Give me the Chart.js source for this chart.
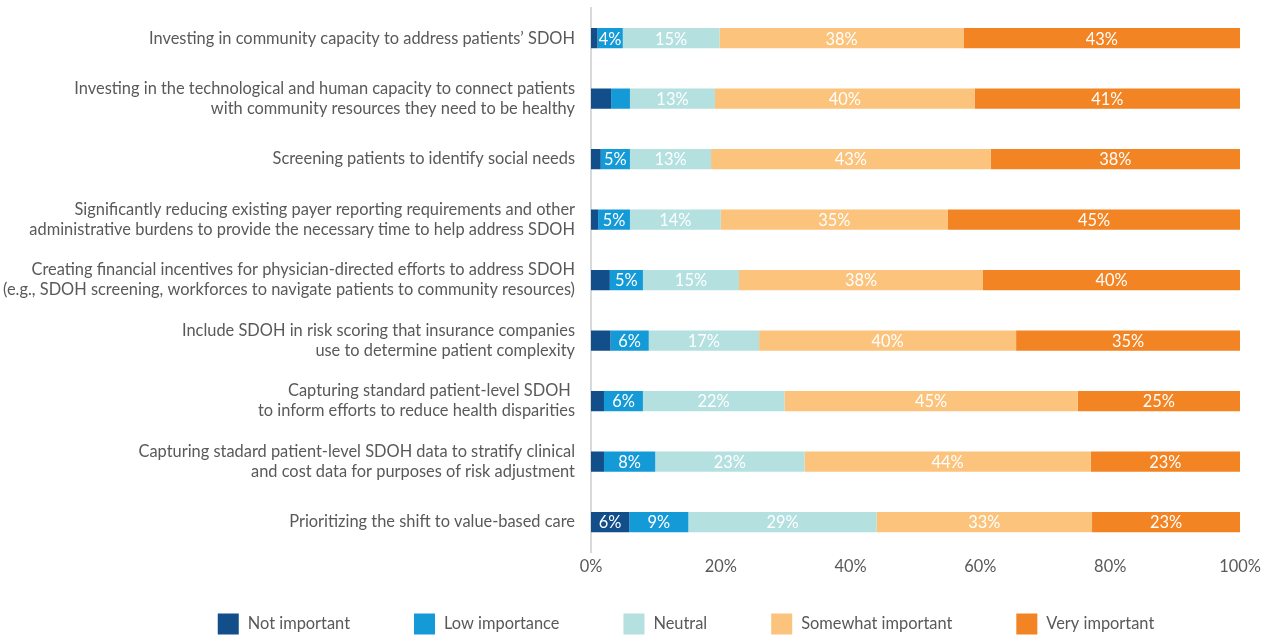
<!DOCTYPE html>
<html>
<head>
<meta charset="utf-8">
<script src="https://cdn.jsdelivr.net/npm/chart.js@4/dist/chart.umd.min.js"></script>
<style>
  html, body { margin: 0; padding: 0; background: #ffffff; }
  #wrap { width: 1270px; height: 636px; position: relative; }
</style>
</head>
<body>
<div id="wrap"><canvas id="c" width="1270" height="636"></canvas></div>
<script>
const categories = [
  "Investing in community capacity to address patients\u2019 SDOH",
  ["Investing in the technological and human capacity to connect patients", "with community resources they need to be healthy"],
  "Screening patients to identify social needs",
  ["Significantly reducing existing payer reporting requirements and other", "administrative burdens to provide the necessary time to help address SDOH"],
  ["Creating financial incentives for physician-directed efforts to address SDOH", "(e.g., SDOH screening, workforces to navigate patients to community resources)"],
  ["Include SDOH in risk scoring that insurance companies", "use to determine patient complexity"],
  ["Capturing standard patient-level SDOH ", "to inform efforts to reduce health disparities"],
  ["Capturing stadard patient-level SDOH data to stratify clinical", "and cost data for purposes of risk adjustment"],
  "Prioritizing the shift to value-based care"
];

const seriesNames = ["Not important", "Low importance", "Neutral", "Somewhat important", "Very important"];

const notImportant      = [1.0, 3.1, 1.5, 1.1, 2.9, 3.0, 2.0, 2.0, 5.9];
const lowImportance     = [3.9, 2.9, 4.5, 4.9, 5.1, 5.9, 6.0, 7.9, 9.1];
const neutral           = [14.9, 13.1, 12.5, 14.0, 14.8, 17.0, 21.8, 23.0, 29.0];
const somewhatImportant = [37.6, 40.0, 43.1, 35.0, 37.6, 39.6, 45.2, 44.1, 33.2];
const veryImportant     = [42.6, 40.9, 38.4, 45.0, 39.6, 34.5, 25.0, 23.0, 22.8];

const xTicks = [0, 20, 40, 60, 80, 100];

const colors = ["#114E8A", "#159AD8", "#B4E0E0", "#FCC37D", "#F38423"];
const FONT = "Lato, 'Open Sans', sans-serif";
const FSIZE = 16.4;
const TEXT = "#595959";

const seriesValues = [notImportant, lowImportance, neutral, somewhatImportant, veryImportant];

const datasets = seriesNames.map((name, i) => ({
  label: name,
  data: seriesValues[i],
  backgroundColor: colors[i],
  borderWidth: 0,
  barPercentage: 0.335,
  categoryPercentage: 1.0
}));

const valueLabels = {
  id: 'valueLabels',
  afterDatasetsDraw(chart) {
    const ctx = chart.ctx;
    ctx.save();
    ctx.font = FSIZE + "px " + FONT;
    ctx.fillStyle = "#ffffff";
    ctx.textAlign = "center";
    ctx.textBaseline = "middle";
    chart.data.datasets.forEach((ds, di) => {
      const meta = chart.getDatasetMeta(di);
      meta.data.forEach((el, i) => {
        const v = Math.round(ds.data[i]);
        if (v < 4) return;
        const cx = (el.x + el.base) / 2;
        ctx.fillText(v + "%", cx, el.y + 1);
      });
    });
    ctx.restore();
  }
};

const bottomLegend = {
  id: 'bottomLegend',
  afterDraw(chart) {
    const ctx = chart.ctx;
    ctx.save();
    ctx.font = FSIZE + "px " + FONT;
    const box = 21, gapText = 9, gapItem = 64;
    const widths = chart.data.datasets.map(ds => box + gapText + ctx.measureText(ds.label).width);
    const total = widths.reduce((a, b) => a + b, 0) + gapItem * (widths.length - 1);
    let x = 686 - total / 2;
    const cy = 624;
    chart.data.datasets.forEach((ds, i) => {
      ctx.fillStyle = ds.backgroundColor;
      ctx.fillRect(x, cy - box / 2, box, box);
      ctx.fillStyle = TEXT;
      ctx.textAlign = "left";
      ctx.textBaseline = "middle";
      ctx.fillText(ds.label, x + box + gapText, cy);
      x += widths[i] + gapItem;
    });
    ctx.restore();
  }
};

new Chart(document.getElementById('c'), {
  type: 'bar',
  data: { labels: categories, datasets },
  options: {
    indexAxis: 'y',
    responsive: false,
    animation: false,
    layout: { padding: { top: 8, bottom: 54, right: 30, left: 0 } },
    plugins: {
      legend: { display: false },
      tooltip: { enabled: false }
    },
    scales: {
      x: {
        stacked: true,
        min: 0,
        max: 100,
        afterBuildTicks(scale) { scale.ticks = xTicks.map(v => ({ value: v })); },
        grid: { display: false, drawTicks: false },
        border: { display: false },
        ticks: {
          padding: 5,
          color: TEXT,
          font: { family: FONT, size: FSIZE },
          callback: v => v + "%"
        }
      },
      y: {
        stacked: true,
        afterFit(scale) { scale.width = 591; scale.paddingTop = 0; scale.paddingBottom = 0; },
        grid: { display: false, drawTicks: false },
        border: { display: true, color: "#D9D9D9", width: 2 },
        ticks: {
          padding: 16,
          color: TEXT,
          font: { family: FONT, size: FSIZE, lineHeight: 1.22 },
          autoSkip: false
        }
      }
    }
  },
  plugins: [valueLabels, bottomLegend]
});
</script>
</body>
</html>
